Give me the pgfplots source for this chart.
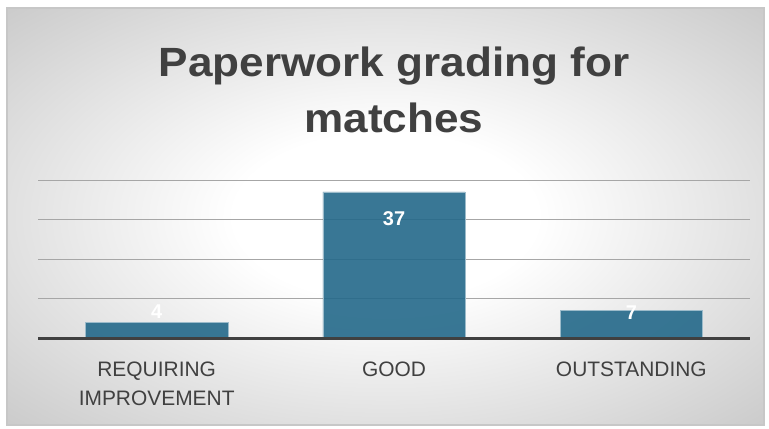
\documentclass[border=0pt]{standalone}
\usepackage{fontspec}
\setmainfont{Liberation Sans}
\newfontfamily\titlefont[FakeStretch=1.08]{Liberation Sans}
\usepackage{pgfplots}
\pgfplotsset{compat=1.18}
\definecolor{barc}{HTML}{24698A}
\definecolor{txt}{HTML}{404040}
\pgfdeclareradialshading{bg}{\pgfpoint{0bp}{0bp}}{color(0bp)=(white); color(10bp)=(white); color(40bp)=(black!24); color(50bp)=(black!24)}
\begin{document}
\begin{tikzpicture}[x=1bp,y=1bp]
\useasboundingbox (0,0) rectangle (769bp,-429bp);
\fill[white] (0,0) rectangle (769bp,-429bp);
\shade[shading=bg, draw=black!22, line width=1.2bp] (7bp,-8bp) rectangle (764bp,-425bp);
\node[anchor=base, text=txt, font=\titlefont\bfseries\fontsize{41}{48}\selectfont] at (394bp,-76bp) {Paperwork grading for};
\node[anchor=base, text=txt, font=\titlefont\bfseries\fontsize{41}{48}\selectfont] at (394bp,-132bp) {matches};
\begin{axis}[
  at={(38bp,-338bp)}, anchor=south west,
  scale only axis, width=712bp, height=158bp,
  xmin=-0.5, xmax=2.5, ymin=0, ymax=40,
  axis line style={draw=none},
  ytick={10,20,30,40}, yticklabels={},
  ymajorgrids, grid style={black!35, line width=0.9bp},
  major tick length=0pt,
  xtick={0,1,2},
  xticklabels={{REQUIRING\\IMPROVEMENT},GOOD,OUTSTANDING},
  xticklabel style={font=\fontsize{21}{29}\selectfont, text=txt, align=center, anchor=north, yshift=-20bp},
  clip=false,
]
\addplot[ybar, bar width=0.6, fill=barc, fill opacity=0.9, draw=barc!45!white, line width=0.6bp]
  coordinates {(0,4) (1,37) (2,7)};
\addplot[only marks, mark=none, nodes near coords, point meta=explicit symbolic,
  nodes near coords style={anchor=center, text=white, font=\bfseries\fontsize{20}{24}\selectfont}]
  coordinates {(0,6.6)[4] (1,30.1)[37] (2,6.3)[7]};
\draw[txt, line width=3bp] (axis cs:-0.5,0) -- (axis cs:2.5,0);
\end{axis}
\end{tikzpicture}
\end{document}
